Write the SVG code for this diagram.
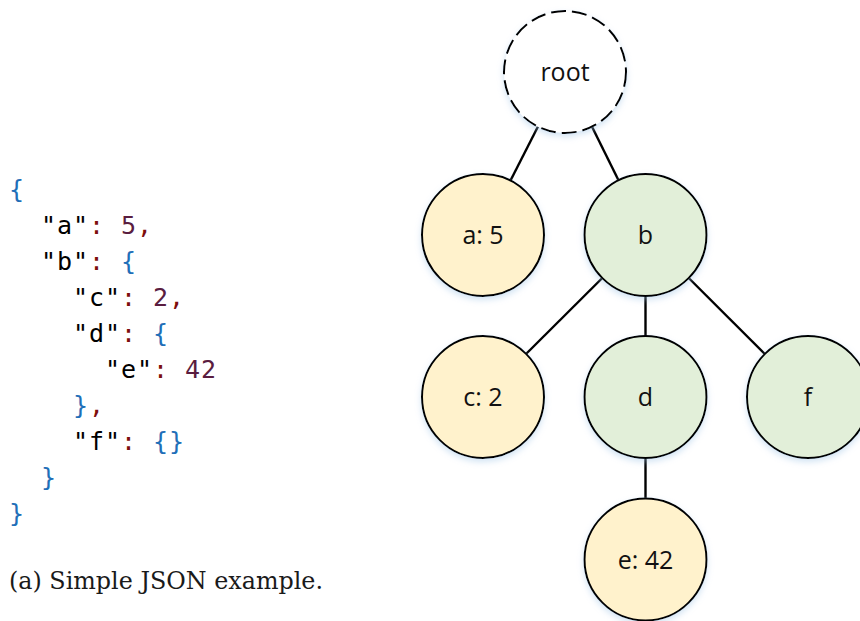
<svg xmlns="http://www.w3.org/2000/svg" width="860" height="621" viewBox="0 0 860 621">
  <style>
    .code { font-family: "DejaVu Sans Mono", monospace; font-size: 25px; letter-spacing: 0.95px; fill: #000; }
    .brace { fill: #1f6fb8; }
    .num { fill: #5a1d40; }
    .punct { fill: #7d0d0d; }
    .caption { font-family: "DejaVu Serif", serif; font-size: 23.5px; fill: #1a1a1a; }
    .node circle { stroke: #000; stroke-width: 2; filter: url(#glow); }
    .leaf { fill: #fff2cc; }
    .obj { fill: #e2efd9; }
    .rootc { fill: #fff; stroke-dasharray: 15 6; }
    .label { font-family: "Open Sans", sans-serif; font-size: 25px; fill: #111; text-anchor: middle; }
    .edges line { stroke: #000; stroke-width: 2.4; }
  </style>
  <defs>
    <filter id="glow" x="-20%" y="-20%" width="140%" height="150%">
      <feGaussianBlur in="SourceAlpha" stdDeviation="3"/>
      <feOffset dy="3" result="b"/>
      <feFlood flood-color="#9dc3e6" flood-opacity="0.45"/>
      <feComposite in2="b" operator="in"/>
      <feMerge>
        <feMergeNode/>
        <feMergeNode in="SourceGraphic"/>
      </feMerge>
    </filter>
  </defs>

  <rect width="860" height="621" fill="#fff"/>

  <!-- JSON listing: fixed 16px columns -->
  <g id="listing" class="code">
    <text x="9" y="198"><tspan class="brace">{</tspan></text>
    <text x="41" y="234">"a"<tspan class="punct">:</tspan> <tspan class="num">5</tspan><tspan class="punct">,</tspan></text>
    <text x="41" y="270">"b"<tspan class="punct">:</tspan> <tspan class="brace">{</tspan></text>
    <text x="73" y="306">"c"<tspan class="punct">:</tspan> <tspan class="num">2</tspan><tspan class="punct">,</tspan></text>
    <text x="73" y="342">"d"<tspan class="punct">:</tspan> <tspan class="brace">{</tspan></text>
    <text x="105" y="378">"e"<tspan class="punct">:</tspan> <tspan class="num">42</tspan></text>
    <text x="73" y="414"><tspan class="brace">}</tspan><tspan class="punct">,</tspan></text>
    <text x="73" y="450">"f"<tspan class="punct">:</tspan> <tspan class="brace">{}</tspan></text>
    <text x="41" y="486"><tspan class="brace">}</tspan></text>
    <text x="9" y="522"><tspan class="brace">}</tspan></text>
  </g>
  <text id="caption" class="caption" x="9" y="589" textLength="314" lengthAdjust="spacingAndGlyphs">(a) Simple JSON example.</text>

  <!-- tree edges -->
  <g id="edges" class="edges">
    <line x1="538" y1="126.5" x2="510.5" y2="180.5"/>
    <line x1="592" y1="126.7" x2="618.5" y2="180.3"/>
    <line x1="602.3" y1="278" x2="526" y2="354"/>
    <line x1="645.5" y1="296" x2="645.5" y2="336"/>
    <line x1="688.7" y1="278" x2="764.8" y2="354"/>
    <line x1="645.5" y1="458" x2="645.5" y2="498"/>
  </g>

  <!-- tree nodes -->
  <g id="node-root" class="node">
    <circle class="rootc" cx="565" cy="72" r="61"/>
    <text class="label" x="565" y="81">root</text>
  </g>
  <g id="node-a" class="node">
    <circle class="leaf" cx="483" cy="235" r="61"/>
    <text class="label" x="483" y="244">a: 5</text>
  </g>
  <g id="node-b" class="node">
    <circle class="obj" cx="645.5" cy="235" r="61"/>
    <text class="label" x="645.5" y="244">b</text>
  </g>
  <g id="node-c" class="node">
    <circle class="leaf" cx="483" cy="397" r="61"/>
    <text class="label" x="483" y="406">c: 2</text>
  </g>
  <g id="node-d" class="node">
    <circle class="obj" cx="645.5" cy="397" r="61"/>
    <text class="label" x="645.5" y="406">d</text>
  </g>
  <g id="node-f" class="node">
    <circle class="obj" cx="808" cy="397" r="61"/>
    <text class="label" x="808" y="406">f</text>
  </g>
  <g id="node-e" class="node">
    <circle class="leaf" cx="645.5" cy="559.5" r="61"/>
    <text class="label" x="645.5" y="568.5">e: 42</text>
  </g>
</svg>
